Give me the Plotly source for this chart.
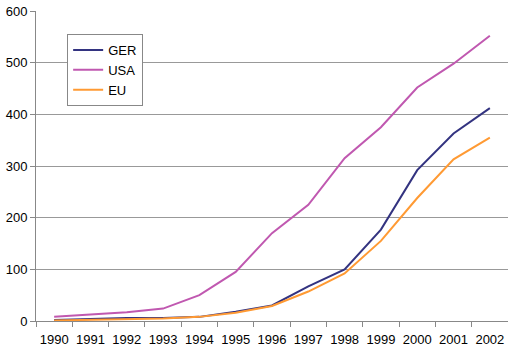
import plotly.graph_objects as go

years = ["1990", "1991", "1992", "1993", "1994", "1995", "1996",
         "1997", "1998", "1999", "2000", "2001", "2002"]
ger = [2, 4, 6, 6, 8, 18, 30, 67, 100, 177, 292, 363, 412]
usa = [8, 12, 17, 24, 50, 95, 170, 225, 315, 375, 452, 498, 552]
eu = [1, 2, 4, 5, 8, 16, 29, 57, 92, 155, 238, 313, 355]

fig = go.Figure()
fig.add_trace(go.Scatter(x=years, y=ger, name="GER", mode="lines",
                         line=dict(color="#333380", width=2)))
fig.add_trace(go.Scatter(x=years, y=usa, name="USA", mode="lines",
                         line=dict(color="#C058B0", width=2)))
fig.add_trace(go.Scatter(x=years, y=eu, name="EU", mode="lines",
                         line=dict(color="#FF9A33", width=2)))

fig.update_layout(
    width=508, height=357,
    margin=dict(l=36, r=0, t=11, b=36),
    paper_bgcolor="white", plot_bgcolor="white",
    font=dict(family="Liberation Sans, Arial, sans-serif", size=13, color="black"),
    showlegend=True,
    legend=dict(x=0.066, y=0.926, xanchor="left", yanchor="top",
                bordercolor="#888888", borderwidth=1, bgcolor="white",
                itemwidth=30, font=dict(size=13), tracegroupgap=0),
    xaxis=dict(type="category", tickson="boundaries", ticks="outside", ticklen=5,
               tickcolor="#888888", showline=True, linecolor="#888888", linewidth=1,
               showgrid=False, range=[-0.5, 12.5], fixedrange=True,
               tickangle=0, automargin=False, ticklabelstandoff=6),
    yaxis=dict(range=[0, 600], dtick=100, ticks="outside", ticklen=5,
               tickcolor="#888888", showline=True, linecolor="#888888", linewidth=1,
               showgrid=True, gridcolor="#999999", gridwidth=1, zeroline=False,
               fixedrange=True, automargin=False),
)

fig.write_html("out.html", config={"displayModeBar": False},
               post_script="document.body.style.margin='0';")
